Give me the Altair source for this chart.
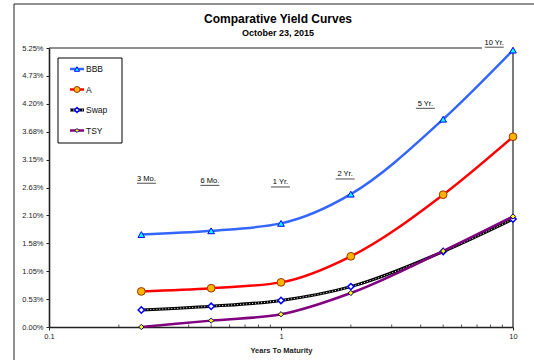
import altair as alt
import pandas as pd

# ---- data ----
maturity = [0.25, 0.5, 1, 2, 5, 10]
bbb = [1.74, 1.81, 1.95, 2.50, 3.91, 5.21]
a_vals = [0.67, 0.73, 0.84, 1.33, 2.49, 3.58]
swap = [0.32, 0.39, 0.50, 0.76, 1.42, 2.03]
tsy = [0.00, 0.12, 0.24, 0.64, 1.43, 2.08]
series_names = ["BBB", "A", "Swap", "TSY"]
series_values = [bbb, a_vals, swap, tsy]

y_ticks = [0, 0.525, 1.05, 1.575, 2.1, 2.625, 3.15, 3.675, 4.2, 4.725, 5.25]
x_ticks = [0.1, 1, 10]
x_minor = [0.2, 0.3, 0.4, 0.5, 0.6, 0.7, 0.8, 0.9, 2, 3, 4, 5, 6, 7, 8, 9]

mat_labels = ["3 Mo.", "6 Mo.", "1 Yr.", "2 Yr.", "5 Yr.", "10 Yr."]
label_x = [0.263, 0.494, 0.995, 1.89, 4.19, 8.30]
label_y = [2.79, 2.75, 2.72, 2.87, 4.20, 5.35]

title = "Comparative Yield Curves"
subtitle = "October 23, 2015"
x_title = "Years To Maturity"

FONT = "Liberation Sans"
W, H = 464, 279

styles = {
    "BBB": dict(line="#3366FF", shape="triangle-up", fill="#00FFFF", stroke="#0000FF", size=45, sw=1),
    "A": dict(line="#FF0000", shape="circle", fill="#FFB400", stroke="#993300", size=60, sw=1),
    "Swap": dict(line="#000000", shape="diamond", fill="#FFFFFF", stroke="#0000FF", size=40, sw=1.5),
    "TSY": dict(line="#800080", shape="diamond", fill="#FFFF00", stroke="#000080", size=28, sw=1),
}

xscale = alt.Scale(type="log", domain=[0.1, 10])
yscale = alt.Scale(domain=[0, 5.25])

X = alt.X("m:Q", scale=xscale, axis=alt.Axis(
    values=x_ticks, format="~g", title=x_title, grid=False, tickSize=3,
    labelFont=FONT, labelFontSize=7.5, labelColor="#222", labelPadding=2,
    labelFlush=False, labelOverlap=False,
    titleFont=FONT, titleFontSize=7.5, titleFontWeight="bold", titleColor="#222",
    titlePadding=7, domainColor="#222", domainWidth=1.6, tickColor="#222", tickWidth=1))
Y = alt.Y("v:Q", scale=yscale, axis=alt.Axis(
    values=y_ticks, labelExpr="format(datum.value + 1e-9, '.2f') + '%'", title=None,
    grid=False, tickSize=3, labelFont=FONT, labelFontSize=7.5, labelColor="#222",
    labelPadding=3, labelOverlap=False, labelFlush=False, labelBound=False,
    domainColor="#222", domainWidth=1.6, tickColor="#222", tickWidth=1))

layers = []

# outer frame and plot frame (decoration)
deco = pd.DataFrame({"k": [0]})
layers.append(alt.Chart(deco).mark_rule(color="#222", strokeWidth=1).encode(
    x=alt.value(-35), y=alt.value(-44), y2=alt.value(H + 40)))
layers.append(alt.Chart(deco).mark_rule(color="#222", strokeWidth=1).encode(
    x=alt.value(-35), x2=alt.value(W + 40), y=alt.value(-44)))
layers.append(alt.Chart(deco).mark_rule(color="#222", strokeWidth=1.2).encode(
    x=alt.value(0), x2=alt.value(433), y=alt.value(0)))
layers.append(alt.Chart(deco).mark_rule(color="#222", strokeWidth=1.2).encode(
    x=alt.value(W), y=alt.value(0), y2=alt.value(H)))

# series
for name, vals in zip(series_names, series_values):
    st = styles[name]
    df = pd.DataFrame({"m": maturity, "v": vals})
    base = alt.Chart(df).encode(x=X, y=Y)
    if name == "Swap":
        layers.append(base.mark_line(color="#000", strokeWidth=3, interpolate="monotone"))
        layers.append(base.mark_line(color="#FFFFFF", strokeWidth=1, strokeDash=[1, 2],
                                     interpolate="monotone"))
    else:
        layers.append(base.mark_line(color=st["line"], strokeWidth=2.5, interpolate="monotone"))
    layers.append(base.mark_point(shape=st["shape"], filled=True, fill=st["fill"],
                                  stroke=st["stroke"], strokeWidth=st["sw"], size=st["size"],
                                  opacity=1))

# minor ticks
layers.append(alt.Chart(pd.DataFrame({"m": x_minor})).mark_rule(color="#555", strokeWidth=1).encode(
    x=X, y=alt.value(H - 2.5), y2=alt.value(H)))

# maturity labels (underlined)
ldf = pd.DataFrame({"m": label_x, "v": label_y, "t": mat_labels})
layers.append(alt.Chart(ldf).mark_text(font=FONT, fontSize=7.5, color="#000", baseline="middle").encode(
    x=X, y=Y, text="t:N"))
layers.append(alt.Chart(ldf).mark_tick(orient="horizontal", size=19, thickness=1, color="#000",
                                       yOffset=4.5).encode(x=X, y=Y))

# titles
layers.append(alt.Chart(pd.DataFrame({"t": [title]})).mark_text(
    font=FONT, fontSize=12, fontWeight="bold", color="#000", baseline="middle", align="center").encode(
    x=alt.value(229), y=alt.value(-29.5), text="t:N"))
layers.append(alt.Chart(pd.DataFrame({"t": [subtitle]})).mark_text(
    font=FONT, fontSize=9, fontWeight="bold", color="#000", baseline="middle", align="center").encode(
    x=alt.value(229), y=alt.value(-15.5), text="t:N"))

# legend box
layers.append(alt.Chart(deco).mark_rect(fill="#FFFFFF", stroke="#000", strokeWidth=1).encode(
    x=alt.value(9), x2=alt.value(73), y=alt.value(10), y2=alt.value(95)))
for i, name in enumerate(series_names):
    st = styles[name]
    yy = 21 + i * 20.5
    one = pd.DataFrame({"t": [name]})
    if name == "Swap":
        layers.append(alt.Chart(one).mark_rule(color="#000", strokeWidth=3).encode(
            x=alt.value(21), x2=alt.value(35), y=alt.value(yy)))
        layers.append(alt.Chart(one).mark_rule(color="#FFF", strokeWidth=1, strokeDash=[1, 2]).encode(
            x=alt.value(21), x2=alt.value(35), y=alt.value(yy)))
    else:
        layers.append(alt.Chart(one).mark_rule(color=st["line"], strokeWidth=2.5).encode(
            x=alt.value(21), x2=alt.value(35), y=alt.value(yy)))
    layers.append(alt.Chart(one).mark_point(shape=st["shape"], filled=True, fill=st["fill"],
                                            stroke=st["stroke"], strokeWidth=st["sw"],
                                            size=st["size"] * 0.6, opacity=1).encode(
        x=alt.value(28), y=alt.value(yy)))
    layers.append(alt.Chart(one).mark_text(font=FONT, fontSize=8.5, color="#111", align="left",
                                           baseline="middle").encode(
        x=alt.value(37), y=alt.value(yy), text="t:N"))

chart = alt.layer(*layers).properties(
    width=W, height=H,
    padding={"left": 49, "top": 48, "right": 21, "bottom": 33},
    autosize=alt.AutoSizeParams(type="none"),
    background="#FFFFFF",
).configure_view(stroke=None).configure_axis(labelOverlap=False).configure_axisY(labelOverlap=False)

chart.save("out.html", embed_options={"renderer": "svg", "actions": False})
